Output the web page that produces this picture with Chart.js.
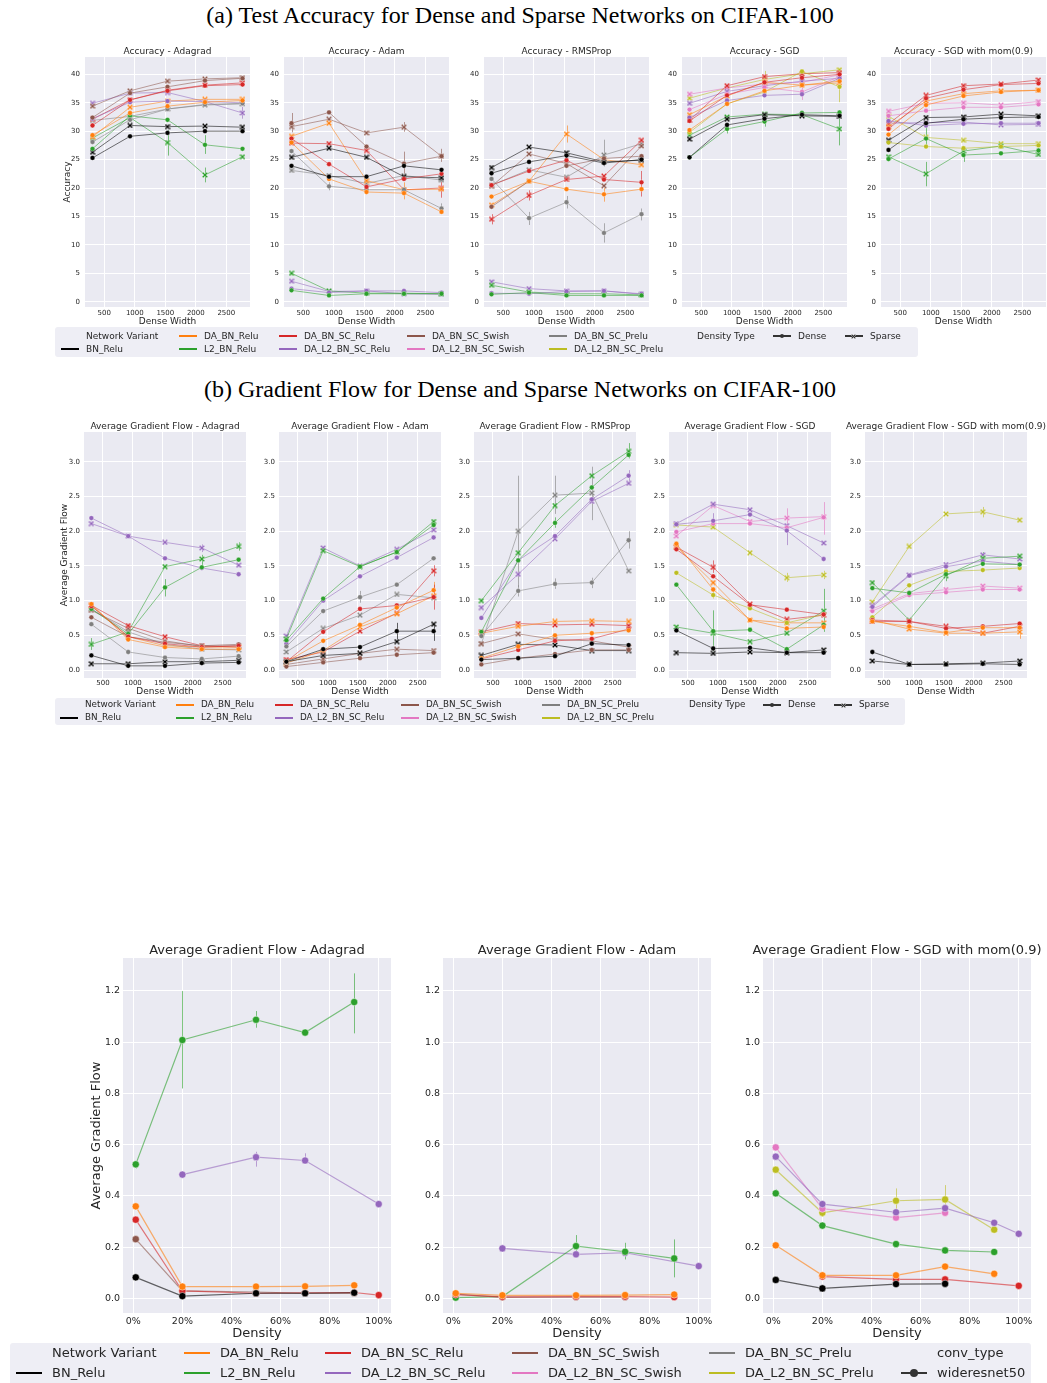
<!DOCTYPE html>
<html><head><meta charset="utf-8">
<script src="https://cdn.jsdelivr.net/npm/chart.js@4.4.1/dist/chart.umd.min.js"></script>
<style>
body{margin:0;background:#fff;}
#root{position:relative;width:1047px;height:1383px;overflow:hidden;}
#root canvas{position:absolute;}
.sup{position:absolute;left:0;width:1040px;text-align:center;font-family:"Liberation Serif",serif;font-size:24px;line-height:30px;color:#000;white-space:nowrap;}
.lg{position:absolute;background:#eeeef5;border-radius:3px;}
.lt{position:absolute;white-space:nowrap;color:#262626;font-family:"DejaVu Sans",sans-serif;}
.hd{position:absolute;}
</style></head>
<body><div id="root">
<div class="sup" style="top:0px">(a) Test Accuracy for Dense and Sparse Networks on CIFAR-100</div>
<div class="sup" style="top:374px">(b) Gradient Flow for Dense and Sparse Networks on CIFAR-100</div>
</div>
<script>
// ---------------- DATA ----------------
const WIDTHS = [307, 922, 1536, 2150, 2765];
const WIDTH_TICKS = [500, 1000, 1500, 2000, 2500];
const ACC_TICKS = [0, 5, 10, 15, 20, 25, 30, 35, 40];
const GF_TICKS = [0, 0.5, 1, 1.5, 2, 2.5, 3];
const DENSITY = [0.01, 0.2, 0.5, 0.7, 0.9, 1.0];
const DENSITY_TICKS = [0, 0.2, 0.4, 0.6, 0.8, 1.0];
const DGF_TICKS = [0, 0.2, 0.4, 0.6, 0.8, 1.0, 1.2];

const ALL_VARIANTS = ['BN_Relu','DA_BN_Relu','DA_BN_SC_Relu','DA_BN_SC_Swish','DA_BN_SC_Prelu','L2_BN_Relu','DA_L2_BN_SC_Relu','DA_L2_BN_SC_Swish','DA_L2_BN_SC_Prelu'];
const ADAPT_VARIANTS = ['BN_Relu','DA_BN_Relu','DA_BN_SC_Relu','DA_BN_SC_Swish','DA_BN_SC_Prelu','L2_BN_Relu','DA_L2_BN_SC_Relu'];
const SGD_VARIANTS = ['BN_Relu','DA_BN_Relu','DA_BN_SC_Relu','L2_BN_Relu','DA_L2_BN_SC_Relu','DA_L2_BN_SC_Swish','DA_L2_BN_SC_Prelu'];

// (a) Accuracy
const accAdagradDense = [
 [25.3,29.1,29.7,30.0,30.0],[29.3,33.2,34.4,35.1,35.4],[31.0,35.5,37.1,38.0,38.2],[32.4,36.7,37.8,38.9,39.3],
 [28.1,32.0,33.9,34.7,34.9],[26.9,32.7,32.0,27.6,26.9],[32.2,35.1,35.3,35.2,35.0]];
const accAdagradSparse = [
 [26.3,31.0,30.8,30.9,30.7],[29.0,34.2,35.3,35.6,35.6],[32.1,35.5,37.2,38.1,38.5],[34.4,37.1,38.8,39.2,39.4],
 [31.9,32.6,33.9,34.6,34.8],[28.8,32.4,28.0,22.3,25.5],[34.9,36.7,36.8,35.2,33.2]];
const accAdagradErr = [['L2_BN_Relu','sparse',2,25.7,30.2],['L2_BN_Relu','sparse',3,21.0,23.6],
 ['L2_BN_Relu','dense',3,26.0,29.3],['DA_L2_BN_SC_Relu','sparse',4,32.2,34.3]];
const accAdamDense = [
 [23.9,22.0,22.0,23.9,23.2],[28.0,21.6,19.3,19.1,15.8],[28.7,24.2,20.2,21.6,22.5],[31.4,33.3,27.3,24.3,25.6],
 [26.5,20.3,19.7,19.7,16.4],[2.0,1.1,1.4,1.4,1.4],[2.3,1.6,1.9,1.9,1.6]];
const accAdamSparse = [
 [25.4,27.0,25.4,22.0,21.8],[29.1,31.4,21.3,19.7,19.8],[27.9,27.8,26.6,19.7,20.0],[30.8,32.1,29.7,30.7,25.6],
 [23.1,22.2,20.8,22.2,21.4],[5.0,1.9,1.5,1.5,1.4],[3.6,1.8,1.9,1.4,1.3]];
const accAdamErr = [['DA_BN_SC_Swish','dense',0,29.8,33.2],['DA_BN_SC_Swish','dense',3,22.5,26.4],
 ['DA_BN_SC_Relu','sparse',4,18.3,21.4],['DA_BN_SC_Prelu','dense',4,15.6,17.3],['DA_BN_Relu','sparse',3,18.0,21.0],
 ['DA_BN_SC_Swish','sparse',3,29.9,31.6],['DA_BN_SC_Swish','sparse',4,24.6,26.9],['DA_BN_SC_Prelu','dense',1,19.6,21.0]];
const accRmsDense = [
 [22.6,24.6,25.7,24.4,25.0],[18.5,21.2,19.8,18.9,19.8],[20.5,23.0,24.9,21.5,21.0],[16.7,21.2,23.9,25.2,25.6],
 [21.6,14.7,17.5,12.1,15.4],[1.3,1.6,1.1,1.1,1.1],[1.5,1.4,1.8,1.9,1.4]];
const accRmsSparse = [
 [23.6,27.2,26.2,24.6,24.9],[17.0,21.2,29.5,25.0,24.1],[14.5,18.7,21.5,22.1,28.4],[20.3,26.0,24.3,20.4,27.4],
 [20.5,23.2,21.9,25.8,27.8],[2.9,1.7,1.4,1.4,1.2],[3.5,2.3,1.9,1.9,1.3]];
const accRmsErr = [['DA_BN_Relu','sparse',2,28.0,31.0],['DA_BN_SC_Prelu','sparse',3,23.8,28.5],
 ['DA_BN_SC_Prelu','dense',3,10.4,13.8],['DA_BN_SC_Prelu','dense',1,13.5,15.8],['DA_BN_SC_Prelu','dense',2,16.4,18.6],
 ['DA_BN_SC_Relu','dense',4,18.5,23.0],['DA_BN_SC_Prelu','dense',4,14.3,16.4],['DA_BN_Relu','dense',3,17.6,20.0],
 ['DA_BN_SC_Relu','sparse',0,13.6,15.4],['DA_BN_SC_Relu','sparse',1,17.8,19.6]];
const accSgdDense = [
 [25.4,31.1,32.2,32.9,32.7],[30.2,34.8,37.1,38.1,38.8],[31.8,36.3,38.6,39.4,40.0],[25.4,30.4,31.7,33.2,33.3],
 [32.4,35.4,36.3,36.5,39.3],[33.8,36.5,37.7,36.9,39.6],[29.8,34.8,36.9,40.5,37.8]];
const accSgdSparse = [
 [28.6,32.1,32.9,32.7,32.6],[32.9,36.2,38.6,38.1,38.5],[31.9,38.0,39.6,40.1,40.3],[29.3,32.5,33.0,32.9,30.4],
 [34.9,37.0,38.0,38.8,39.3],[36.5,37.6,38.3,38.6,39.9],[35.8,37.6,39.1,40.1,40.8]];
const accSgdErr = [['L2_BN_Relu','sparse',4,27.5,33.2],['DA_L2_BN_SC_Prelu','dense',4,35.1,40.3],
 ['DA_L2_BN_SC_Swish','dense',3,35.5,38.0],['L2_BN_Relu','dense',1,29.6,31.2],['L2_BN_Relu','dense',2,30.8,32.6],
 ['DA_L2_BN_SC_Prelu','sparse',2,38.2,40.6]];
const accMomDense = [
 [26.7,31.4,32.1,32.4,32.5],[29.4,34.6,36.2,36.9,37.2],[30.4,35.8,37.3,38.2,38.4],[25.1,28.7,25.8,26.1,26.6],
 [31.8,31.0,31.3,31.4,31.4],[32.7,33.6,34.2,34.2,34.7],[28.0,27.3,27.0,27.3,27.5]];
const accMomSparse = [
 [28.4,32.4,32.5,33.0,32.7],[30.8,35.3,36.6,37.1,37.2],[31.3,36.3,38.0,38.3,39.0],[25.5,22.5,26.5,27.4,25.9],
 [31.4,31.5,31.6,31.1,31.2],[33.5,34.9,35.0,34.6,35.2],[32.6,28.9,28.4,27.8,27.8]];
const accMomErr = [['L2_BN_Relu','sparse',1,20.3,24.6],['L2_BN_Relu','dense',2,24.6,27.0],
 ['L2_BN_Relu','dense',1,27.6,30.8]];

// (b) Gradient flow
const gfAdagradDense = [
 [0.21,0.06,0.06,0.10,0.11],[0.95,0.44,0.33,0.30,0.30],[0.92,0.48,0.38,0.33,0.35],[0.76,0.48,0.40,0.35,0.37],
 [0.66,0.26,0.18,0.16,0.20],[0.88,0.52,1.19,1.48,1.59],[2.19,1.93,1.61,1.47,1.38]];
const gfAdagradSparse = [
 [0.09,0.09,0.12,0.12,0.14],[0.93,0.48,0.35,0.33,0.33],[0.93,0.64,0.48,0.35,0.33],[0.86,0.60,0.42,0.34,0.35],
 [0.88,0.55,0.37,0.30,0.29],[0.37,0.55,1.49,1.60,1.78],[2.11,1.93,1.84,1.76,1.51]];
const gfAdagradErr = [['L2_BN_Relu','dense',2,1.06,1.31],['DA_L2_BN_SC_Relu','sparse',3,1.70,1.81],
 ['L2_BN_Relu','sparse',0,0.29,0.46],['L2_BN_Relu','sparse',4,1.72,1.84],['L2_BN_Relu','sparse',3,1.50,1.66]];
const gfAdamDense = [
 [0.12,0.30,0.33,0.56,0.56],[0.12,0.42,0.65,0.90,1.15],[0.12,0.55,0.88,0.93,1.05],[0.05,0.11,0.17,0.22,0.25],
 [0.34,0.85,1.05,1.23,1.61],[0.43,1.03,1.49,1.70,2.09],[0.38,1.00,1.35,1.62,1.91]];
const gfAdamSparse = [
 [0.12,0.21,0.24,0.41,0.66],[0.10,0.28,0.62,0.81,1.07],[0.15,0.26,0.56,0.82,1.43],[0.08,0.16,0.24,0.30,0.28],
 [0.26,0.60,0.79,1.09,1.04],[0.45,1.72,1.49,1.70,2.14],[0.49,1.76,1.50,1.74,2.02]];
const gfAdamErr = [['BN_Relu','dense',4,0.42,0.68],['DA_BN_SC_Relu','dense',4,0.87,1.23],
 ['BN_Relu','dense',3,0.44,0.68],['DA_BN_Relu','dense',4,1.04,1.27],['DA_BN_SC_Prelu','dense',2,0.97,1.14],
 ['DA_BN_SC_Relu','sparse',4,1.35,1.51]];
const gfRmsDense = [
 [0.15,0.17,0.20,0.38,0.36],[0.17,0.34,0.50,0.53,0.57],[0.16,0.29,0.42,0.45,0.59],[0.08,0.17,0.23,0.29,0.29],
 [0.49,1.14,1.24,1.26,1.87],[0.55,1.58,2.12,2.63,3.10],[0.75,1.58,1.93,2.46,2.80]];
const gfRmsSparse = [
 [0.21,0.37,0.36,0.28,0.28],[0.53,0.63,0.70,0.71,0.70],[0.55,0.67,0.65,0.66,0.64],[0.38,0.52,0.44,0.42,0.33],
 [0.38,2.00,2.52,2.55,1.43],[1.00,1.69,2.37,2.80,3.15],[0.90,1.38,1.89,2.43,2.69]];
const gfRmsErr = [['DA_BN_SC_Prelu','sparse',1,1.20,2.80],['DA_BN_SC_Prelu','sparse',2,2.25,2.80],
 ['DA_BN_SC_Prelu','sparse',3,2.16,2.93],['DA_BN_SC_Prelu','dense',4,1.75,2.00],['L2_BN_Relu','sparse',4,3.05,3.27],
 ['DA_L2_BN_SC_Relu','dense',4,2.72,2.88],['DA_BN_SC_Prelu','dense',1,1.06,1.22],['DA_BN_SC_Prelu','dense',2,1.17,1.32],
 ['DA_BN_SC_Prelu','dense',3,1.18,1.33],['L2_BN_Relu','dense',2,2.05,2.20]];
const gfSgdDense = [
 [0.57,0.31,0.32,0.25,0.25],[1.82,1.16,0.72,0.60,0.62],[1.74,1.35,0.94,0.87,0.80],[1.23,0.56,0.58,0.30,0.65],
 [2.10,2.15,2.24,2.01,1.60],[1.99,2.11,2.11,2.05,2.20],[1.40,1.08,0.89,0.68,0.80]];
const gfSgdSparse = [
 [0.25,0.24,0.26,0.25,0.29],[1.78,1.26,0.72,0.68,0.68],[1.77,1.48,0.95,0.73,0.79],[0.62,0.53,0.41,0.53,0.85],
 [2.11,2.39,2.31,2.08,1.83],[1.93,2.37,2.14,2.19,2.21],[2.09,2.06,1.69,1.33,1.37]];
const gfSgdErr = [['L2_BN_Relu','sparse',1,0.27,0.86],['L2_BN_Relu','sparse',4,0.55,1.17],
 ['DA_L2_BN_SC_Swish','sparse',4,1.95,2.42],['DA_L2_BN_SC_Relu','dense',3,1.80,2.10],['DA_L2_BN_SC_Swish','sparse',3,2.00,2.33],
 ['DA_L2_BN_SC_Relu','dense',1,2.05,2.26],['DA_BN_SC_Relu','sparse',1,1.40,1.58],['DA_L2_BN_SC_Prelu','sparse',3,1.27,1.40],
 ['DA_L2_BN_SC_Prelu','sparse',4,1.31,1.43],['DA_L2_BN_SC_Prelu','dense',1,1.03,1.14]];
const gfMomDense = [
 [0.26,0.08,0.08,0.09,0.08],[0.70,0.63,0.54,0.61,0.61],[0.72,0.70,0.60,0.63,0.67],[1.18,1.11,1.38,1.53,1.52],
 [0.91,1.36,1.49,1.57,1.52],[0.85,1.08,1.12,1.16,1.16],[0.76,1.22,1.42,1.44,1.47]];
const gfMomSparse = [
 [0.13,0.08,0.09,0.10,0.13],[0.72,0.59,0.53,0.53,0.55],[0.70,0.70,0.63,0.53,0.63],[1.26,0.72,1.36,1.61,1.64],
 [0.93,1.37,1.52,1.66,1.60],[0.88,1.10,1.16,1.21,1.18],[0.98,1.78,2.25,2.28,2.16]];
const gfMomErr = [['DA_L2_BN_SC_Prelu','sparse',3,2.20,2.35],['DA_BN_Relu','sparse',4,0.45,0.62],
 ['L2_BN_Relu','dense',2,1.28,1.45],['L2_BN_Relu','sparse',3,1.56,1.70]];

// bottom: gradient flow vs density (wideresnet50)
const dAdagradVariants = ['BN_Relu','DA_BN_Relu','DA_BN_SC_Relu','DA_BN_SC_Swish','L2_BN_Relu','DA_L2_BN_SC_Relu'];
const dAdagrad = [
 [0.082,0.009,0.020,0.020,0.022,null],[0.359,0.046,0.046,0.047,0.051,null],[0.307,0.029,0.020,0.022,0.023,0.013],
 [0.231,0.029,0.025,0.020,0.020,null],[0.523,1.008,1.087,1.037,1.156,null],[null,0.483,0.551,0.538,null,0.368]];
const dAdagradErr = [['L2_BN_Relu','dense',0,0.507,0.536],['L2_BN_Relu','dense',1,0.819,1.199],
 ['L2_BN_Relu','dense',2,1.056,1.121],['L2_BN_Relu','dense',3,1.025,1.050],['L2_BN_Relu','dense',4,1.034,1.268],
 ['DA_L2_BN_SC_Relu','dense',1,0.472,0.494],['DA_L2_BN_SC_Relu','dense',2,0.514,0.572],
 ['DA_L2_BN_SC_Relu','dense',3,0.527,0.566],['DA_L2_BN_SC_Relu','dense',5,0.358,0.378]];
const dAdamVariants = ['DA_BN_Relu','DA_BN_SC_Relu','DA_BN_SC_Swish','L2_BN_Relu','DA_L2_BN_SC_Relu'];
const dAdam = [
 [0.020,0.012,0.012,0.013,0.015,null],[0.015,0.006,0.007,0.007,0.005,null],[0.017,0.004,0.005,0.005,null,null],
 [0.003,0.007,0.204,0.182,0.156,null],[null,0.195,0.172,0.178,null,0.126]];
const dAdamErr = [['L2_BN_Relu','dense',2,0.172,0.247],['L2_BN_Relu','dense',3,0.152,0.217],
 ['L2_BN_Relu','dense',4,0.082,0.230]];
const dMomVariants = ['BN_Relu','DA_BN_Relu','DA_BN_SC_Relu','L2_BN_Relu','DA_L2_BN_SC_Relu','DA_L2_BN_SC_Swish','DA_L2_BN_SC_Prelu'];
const dMom = [
 [0.072,0.039,0.056,0.057,null,null],[0.207,0.090,0.090,0.124,0.096,null],[null,0.085,0.074,0.074,null,0.049],
 [0.410,0.284,0.212,0.187,0.181,null],[0.553,0.368,0.336,0.352,0.295,0.252],[0.589,0.350,0.315,0.334,null,null],
 [0.502,0.334,0.381,0.386,0.268,null]];
const dMomErr = [['L2_BN_Relu','dense',0,0.398,0.425],['DA_L2_BN_SC_Prelu','dense',1,0.318,0.350],
 ['DA_L2_BN_SC_Prelu','dense',2,0.340,0.429],['DA_L2_BN_SC_Prelu','dense',3,0.358,0.442],
 ['DA_L2_BN_SC_Prelu','dense',4,0.258,0.278]];

// ---------------- STYLE ----------------
const COLORS = {BN_Relu:'#000000',DA_BN_Relu:'#ff7f0e',DA_BN_SC_Relu:'#d62728',DA_BN_SC_Swish:'#8c564b',
  DA_BN_SC_Prelu:'#7f7f7f',L2_BN_Relu:'#2ca02c',DA_L2_BN_SC_Relu:'#9467bd',DA_L2_BN_SC_Swish:'#e377c2',DA_L2_BN_SC_Prelu:'#bcbd22'};
const FONT = '"DejaVu Sans", sans-serif';
const TXT = '#262626';
const root = document.getElementById('root');

function rgba(hex,a){const n=parseInt(hex.slice(1),16);return `rgba(${n>>16},${(n>>8)&255},${n&255},${a})`;}
const xCache={};
function xMarker(color,size){
  const k=color+size; if(xCache[k]) return xCache[k];
  const c=document.createElement('canvas'); c.width=c.height=size;
  const g=c.getContext('2d'); const h=size/2, a=h*1.12, t=size*0.14;
  g.translate(h,h); g.rotate(Math.PI/4); g.beginPath();
  g.moveTo(-t,-a);g.lineTo(t,-a);g.lineTo(t,-t);g.lineTo(a,-t);g.lineTo(a,t);g.lineTo(t,t);
  g.lineTo(t,a);g.lineTo(-t,a);g.lineTo(-t,t);g.lineTo(-a,t);g.lineTo(-a,-t);g.lineTo(-t,-t);g.closePath();
  g.fillStyle=color; g.fill(); g.strokeStyle='rgba(255,255,255,0.8)'; g.lineWidth=0.5; g.stroke();
  xCache[k]=c; return c;
}

function buildSeries(xs,names,rows,marker,cfg,errList){
  return names.map((n,i)=>({
    label:n+' '+marker,
    data:xs.map((x,j)=>({x:x,y:rows[i][j]})),
    borderColor:rgba(COLORS[n],cfg.alpha), borderWidth:cfg.lw,
    pointStyle: marker==='sparse'? xMarker(COLORS[n],cfg.xs) : 'circle',
    pointRadius: marker==='sparse'? cfg.xs/2 : cfg.r,
    pointBackgroundColor:COLORS[n], pointBorderColor:'rgba(255,255,255,0.8)', pointBorderWidth:cfg.pbw,
    spanGaps:true, tension:0,
    errs: (errList||[]).filter(e=>e[0]===n&&e[1]===marker).map(e=>[xs[e[2]],e[3],e[4]]),
    errColor: rgba(COLORS[n],0.6)
  }));
}

const deco={id:'panelDeco',
  beforeDraw(chart,args,o){const {ctx,chartArea:a}=chart;ctx.save();ctx.fillStyle='#EAEAF2';
    ctx.fillRect(a.left,a.top,a.right-a.left,a.bottom-a.top);ctx.restore();},
  beforeDatasetsDraw(chart){const {ctx,scales}=chart;ctx.save();
    chart.data.datasets.forEach(ds=>{ if(!ds.errs||!ds.errs.length) return; ctx.strokeStyle=ds.errColor; ctx.lineWidth=1;
      ds.errs.forEach(e=>{ const x=Math.round(scales.x.getPixelForValue(e[0]))+0.5;
        ctx.beginPath(); ctx.moveTo(x,scales.y.getPixelForValue(e[1])); ctx.lineTo(x,scales.y.getPixelForValue(e[2])); ctx.stroke();});});
    ctx.restore();},
  afterDraw(chart,args,o){const {ctx,chartArea:a}=chart;ctx.save();ctx.fillStyle=TXT;
    ctx.font=o.size+'px '+FONT;ctx.textAlign='center';ctx.textBaseline='middle';
    ctx.fillText(o.text,(a.left+a.right)/2,a.top-o.gap);ctx.restore();}
};

function makePanel(p){
  const W=p.w+p.Wy+p.R, H=p.h+p.T+p.Hx;
  const cv=document.createElement('canvas'); cv.width=W; cv.height=H;
  cv.style.left=(p.l-p.Wy)+'px'; cv.style.top=(p.t-p.T)+'px'; cv.style.width=W+'px'; cv.style.height=H+'px';
  root.appendChild(cv);
  new Chart(cv,{type:'line',data:{datasets:p.datasets},plugins:[deco],options:{
    responsive:false,animation:false,devicePixelRatio:1,
    layout:{padding:{top:p.T,left:0,right:p.R,bottom:0}},
    plugins:{legend:{display:false},tooltip:{enabled:false},title:{display:false},
      panelDeco:{text:p.title,size:p.titleSize,gap:p.titleGap}},
    scales:{
      x:{type:'linear',min:p.xMin,max:p.xMax,
        afterBuildTicks:s=>{s.ticks=p.xTicks.map(v=>({value:v}));},
        afterFit:s=>{s.height=p.Hx;},
        grid:{color:'#ffffff',lineWidth:1,drawTicks:false},border:{display:false},
        ticks:{font:{family:FONT,size:p.tickSize},color:TXT,padding:p.xPad,maxRotation:0,autoSkip:false,callback:p.xFmt},
        title:{display:true,text:p.xTitle,font:{family:FONT,size:p.labelSize},color:TXT,padding:{top:0,bottom:p.xTitlePad}}},
      y:{type:'linear',min:p.yMin,max:p.yMax,
        afterBuildTicks:s=>{s.ticks=p.yTicks.map(v=>({value:v}));},
        afterFit:s=>{s.width=p.Wy;},
        grid:{color:'#ffffff',lineWidth:1,drawTicks:false},border:{display:false},
        ticks:{font:{family:FONT,size:p.tickSize},color:TXT,padding:p.yPad,autoSkip:false,callback:p.yFmt},
        title:{display:!!p.yTitle,text:p.yTitle||'',font:{family:FONT,size:p.labelSize},color:TXT,padding:{top:p.yTitlePad,bottom:0}}}
    }}});
}

// ---------------- (a) ACCURACY ----------------
const smallCfg={alpha:0.55,lw:1,r:2.4,xs:6,pbw:0.4};
const accSets=[
 ['Accuracy - Adagrad',ADAPT_VARIANTS,accAdagradDense,accAdagradSparse,accAdagradErr],
 ['Accuracy - Adam',ADAPT_VARIANTS,accAdamDense,accAdamSparse,accAdamErr],
 ['Accuracy - RMSProp',ADAPT_VARIANTS,accRmsDense,accRmsSparse,accRmsErr],
 ['Accuracy - SGD',SGD_VARIANTS,accSgdDense,accSgdSparse,accSgdErr],
 ['Accuracy - SGD with mom(0.9)',SGD_VARIANTS,accMomDense,accMomSparse,accMomErr]];
const A_LEFTS=[85,284,484,682,881];
accSets.forEach((s,i)=>{
  makePanel({l:A_LEFTS[i],t:57,w:165,h:250,Wy:40,T:14,Hx:22,R:40,
    title:s[0],titleSize:9,titleGap:5.5,tickSize:7,labelSize:9,
    xMin:184,xMax:2888,xTicks:WIDTH_TICKS,xFmt:v=>String(v),xPad:2,xTitle:'Dense Width',xTitlePad:1.6,
    yMin:-0.93,yMax:43.05,yTicks:ACC_TICKS,yFmt:v=>String(v),yPad:5,
    yTitle:i===0?'Accuracy':null,yTitlePad:17,
    datasets:[...buildSeries(WIDTHS,s[1],s[2],'dense',smallCfg,s[4]),...buildSeries(WIDTHS,s[1],s[3],'sparse',smallCfg,s[4])]});
});

// ---------------- (b) GRADIENT FLOW ----------------
const gfSets=[
 ['Average Gradient Flow - Adagrad',ADAPT_VARIANTS,gfAdagradDense,gfAdagradSparse,gfAdagradErr],
 ['Average Gradient Flow - Adam',ADAPT_VARIANTS,gfAdamDense,gfAdamSparse,gfAdamErr],
 ['Average Gradient Flow - RMSProp',ADAPT_VARIANTS,gfRmsDense,gfRmsSparse,gfRmsErr],
 ['Average Gradient Flow - SGD',SGD_VARIANTS,gfSgdDense,gfSgdSparse,gfSgdErr],
 ['Average Gradient Flow - SGD with mom(0.9)',SGD_VARIANTS,gfMomDense,gfMomSparse,gfMomErr]];
const B_LEFTS=[84,279,474,669,865];
gfSets.forEach((s,i)=>{
  makePanel({l:B_LEFTS[i],t:432,w:162,h:246,Wy:40,T:14,Hx:22,R:40,
    title:s[0],titleSize:9,titleGap:5,tickSize:7,labelSize:9,
    xMin:184,xMax:2888,xTicks:WIDTH_TICKS,xFmt:v=>String(v),xPad:1,xTitle:'Dense Width',xTitlePad:3.2,
    yMin:-0.115,yMax:3.43,yTicks:GF_TICKS,yFmt:v=>v.toFixed(1),yPad:4,
    yTitle:i===0?'Average Gradient Flow':null,yTitlePad:15.3,
    datasets:[...buildSeries(WIDTHS,s[1],s[2],'dense',smallCfg,s[4]),...buildSeries(WIDTHS,s[1],s[3],'sparse',smallCfg,s[4])]});
});

// ---------------- bottom: density ----------------
const bigCfg={alpha:0.6,lw:1.2,r:3.6,xs:8,pbw:0.6};
const dSets=[
 ['Average Gradient Flow - Adagrad',dAdagradVariants,dAdagrad,dAdagradErr],
 ['Average Gradient Flow - Adam',dAdamVariants,dAdam,dAdamErr],
 ['Average Gradient Flow - SGD with mom(0.9)',dMomVariants,dMom,dMomErr]];
const C_LEFTS=[123,443,763];
dSets.forEach((s,i)=>{
  makePanel({l:C_LEFTS[i],t:958,w:268,h:355,Wy:40,T:20,Hx:30,R:40,
    title:s[0],titleSize:13,titleGap:7.3,tickSize:9.5,labelSize:13,
    xMin:-0.042,xMax:1.05,xTicks:DENSITY_TICKS,xFmt:v=>Math.round(v*100)+'%',xPad:3,xTitle:'Density',xTitlePad:1.2,
    yMin:-0.057,yMax:1.328,yTicks:DGF_TICKS,yFmt:v=>v.toFixed(1),yPad:3,
    yTitle:i===0?'Average Gradient Flow':null,yTitlePad:6,
    datasets:buildSeries(DENSITY,s[1],s[2],'dense',bigCfg,s[3])});
});

// ---------------- LEGENDS (HTML) ----------------
function addLegend(box,fs,rowsY,items,lw,mk){
  const d=document.createElement('div'); d.className='lg';
  Object.assign(d.style,{left:box[0]+'px',top:box[1]+'px',width:(box[2]-box[0])+'px',height:(box[3]-box[1])+'px'});
  root.appendChild(d);
  const hl=2*fs, pad=0.8*fs;
  items.forEach(it=>{
    const y=rowsY[it.r];
    const t=document.createElement('div'); t.className='lt'; t.textContent=it.t;
    Object.assign(t.style,{left:it.x+'px',top:(y-fs)+'px',fontSize:fs+'px',lineHeight:(2*fs)+'px'});
    root.appendChild(t);
    if(!it.k) return;
    const col=it.k==='line'?COLORS[it.t]:'#333333';
    const x0=it.x-pad-hl;
    const ln=document.createElement('div'); ln.className='hd';
    Object.assign(ln.style,{left:x0+'px',top:(y-lw/2)+'px',width:hl+'px',height:lw+'px',background:col});
    root.appendChild(ln);
    if(it.k==='dense'){
      const c=document.createElement('div'); c.className='hd';
      Object.assign(c.style,{left:(x0+hl/2-mk/2)+'px',top:(y-mk/2)+'px',width:mk+'px',height:mk+'px',borderRadius:'50%',background:col});
      root.appendChild(c);
    } else if(it.k==='sparse'){
      const src=xMarker(col,Math.round(mk*1.2)); const c=document.createElement('canvas');
      c.width=src.width;c.height=src.height;c.getContext('2d').drawImage(src,0,0);
      Object.assign(c.style,{left:(x0+hl/2-src.width/2)+'px',top:(y-src.height/2)+'px'});
      root.appendChild(c);
    }
  });
}
function topLegendItems(xs){
  return [
    {t:'Network Variant',x:xs[0],r:0},{t:ALL_VARIANTS[0],x:xs[0],r:1,k:'line'},
    {t:ALL_VARIANTS[1],x:xs[1],r:0,k:'line'},{t:ALL_VARIANTS[5],x:xs[1],r:1,k:'line'},
    {t:ALL_VARIANTS[2],x:xs[2],r:0,k:'line'},{t:ALL_VARIANTS[6],x:xs[2],r:1,k:'line'},
    {t:ALL_VARIANTS[3],x:xs[3],r:0,k:'line'},{t:ALL_VARIANTS[7],x:xs[3],r:1,k:'line'},
    {t:ALL_VARIANTS[4],x:xs[4],r:0,k:'line'},{t:ALL_VARIANTS[8],x:xs[4],r:1,k:'line'},
    {t:'Density Type',x:xs[5],r:0},{t:'Dense',x:xs[6],r:0,k:'dense'},{t:'Sparse',x:xs[7],r:0,k:'sparse'}];
}
addLegend([55,327,918,357],9,[336,349],topLegendItems([86,204,304,432,574,697,798,870]),1.3,4);
addLegend([55,698,905,725],8.8,[705,718],topLegendItems([85,201,300,426,567,689,788,859]),1.3,4);
addLegend([10,1343,1031,1395],13,[1353,1373],[
  {t:'Network Variant',x:52,r:0},{t:ALL_VARIANTS[0],x:52,r:1,k:'line'},
  {t:ALL_VARIANTS[1],x:220,r:0,k:'line'},{t:ALL_VARIANTS[5],x:220,r:1,k:'line'},
  {t:ALL_VARIANTS[2],x:361,r:0,k:'line'},{t:ALL_VARIANTS[6],x:361,r:1,k:'line'},
  {t:ALL_VARIANTS[3],x:548,r:0,k:'line'},{t:ALL_VARIANTS[7],x:548,r:1,k:'line'},
  {t:ALL_VARIANTS[4],x:745,r:0,k:'line'},{t:ALL_VARIANTS[8],x:745,r:1,k:'line'},
  {t:'conv_type',x:937,r:0},{t:'wideresnet50',x:937,r:1,k:'dense'}],2.6,8);
</script>
</body></html>
